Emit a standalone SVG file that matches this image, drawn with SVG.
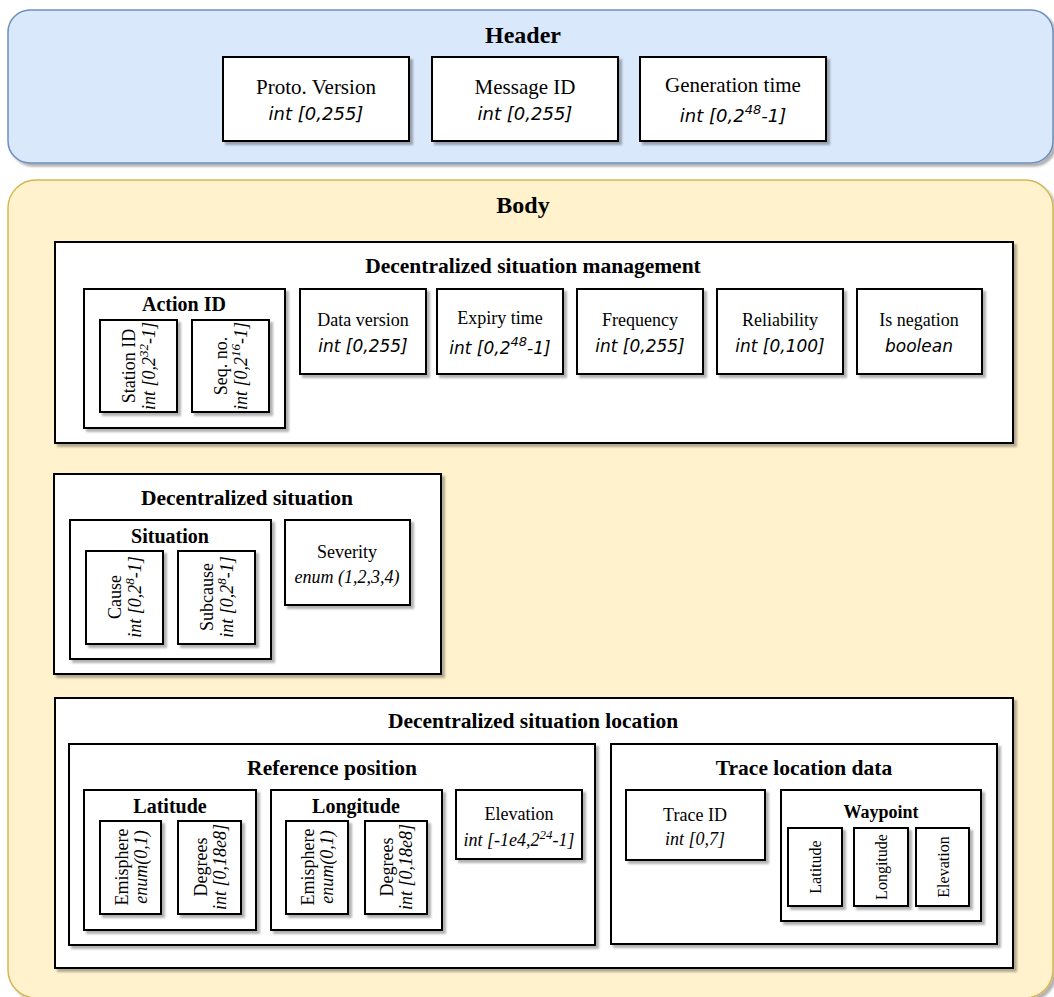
<svg xmlns="http://www.w3.org/2000/svg" width="1054" height="997" viewBox="0 0 1054 997">
<defs>
<filter id="sh" x="-5%" y="-5%" width="115%" height="115%">
<feDropShadow dx="3" dy="3" stdDeviation="1" flood-color="#000" flood-opacity="0.3"/>
</filter>
</defs>
<style>
rect.b{fill:#fff;stroke:#000;stroke-width:2;filter:url(#sh)}
text{font-family:"Liberation Serif","Times New Roman",serif;fill:#000;text-anchor:middle}
.T{font-weight:bold;font-size:24px}
.t{font-weight:bold;font-size:21.5px}
.t3{font-weight:bold;font-size:20px}
.t2{font-weight:bold;font-size:18px}
.h{font-size:21px}
.r{font-size:18px}
.s{font-size:16px}
.i{font-style:italic}
.o{font-family:"DejaVu Sans",sans-serif;font-style:oblique}
.oh{font-size:18px}
.ob{font-size:17px}
</style>
<rect width="1054" height="997" fill="#fff"/>
<g id="header">
<rect x="8" y="10" width="1045" height="153" rx="22" fill="#dae8fc" stroke="#6c8ebf" stroke-width="1.5" filter="url(#sh)"/>
<text class="T" x="523" y="43">Header</text>
</g>
<g id="proto-version">
<rect class="b" x="223" y="57" width="186" height="84"/>
<text class="h" x="316" y="94">Proto. Version</text>
<text class="o oh" x="316" y="120">int [0,255]</text>
</g>
<g id="message-id">
<rect class="b" x="432" y="57" width="186" height="84"/>
<text class="h" x="525" y="94">Message ID</text>
<text class="o oh" x="525" y="120">int [0,255]</text>
</g>
<g id="generation-time">
<rect class="b" x="640" y="57" width="186" height="84"/>
<text class="h" x="733" y="92">Generation time</text>
<text class="o oh" x="733" y="122">int [0,2<tspan dy="-8" font-size="13">48</tspan><tspan dy="8">-1]</tspan></text>
</g>
<g id="body">
<rect x="8" y="180" width="1045" height="818" rx="28" fill="#fff2cc" stroke="#d6b656" stroke-width="1.5" filter="url(#sh)"/>
<text class="T" x="523" y="213">Body</text>
</g>
<g id="dsm">
<rect class="b" x="55" y="242" width="958" height="201"/>
<text class="t" x="533" y="273">Decentralized situation management</text>
</g>
<g id="action-id">
<rect class="b" x="84" y="289" width="201" height="139"/>
<text class="t3" x="184" y="311">Action ID</text>
</g>
<g id="station-id">
<rect class="b" x="100" y="320" width="77" height="92"/>
<g transform="translate(138,366) rotate(-90)">
<text class="r" x="0" y="-3">Station ID</text>
<text class="r i" x="0" y="17">int [0,2<tspan dy="-7" font-size="13">32</tspan><tspan dy="7">-1]</tspan></text>
</g>
</g>
<g id="seq-no">
<rect class="b" x="192" y="320" width="77" height="92"/>
<g transform="translate(230,366) rotate(-90)">
<text class="r" x="0" y="-3">Seq. no.</text>
<text class="r i" x="0" y="17">int [0,2<tspan dy="-7" font-size="13">16</tspan><tspan dy="7">-1]</tspan></text>
</g>
</g>
<g id="data-version">
<rect class="b" x="300" y="289" width="126" height="85"/>
<text class="r" x="363" y="326">Data version</text>
<text class="o ob" x="363" y="352">int [0,255]</text>
</g>
<g id="expiry-time">
<rect class="b" x="437" y="289" width="126" height="85"/>
<text class="r" x="500" y="324">Expiry time</text>
<text class="o ob" x="500" y="354">int [0,2<tspan dy="-8" font-size="13">48</tspan><tspan dy="8">-1]</tspan></text>
</g>
<g id="frequency">
<rect class="b" x="577" y="289" width="126" height="85"/>
<text class="r" x="640" y="326">Frequency</text>
<text class="o ob" x="640" y="352">int [0,255]</text>
</g>
<g id="reliability">
<rect class="b" x="717" y="289" width="126" height="85"/>
<text class="r" x="780" y="326">Reliability</text>
<text class="o ob" x="780" y="352">int [0,100]</text>
</g>
<g id="is-negation">
<rect class="b" x="857" y="289" width="125" height="85"/>
<text class="r" x="919" y="326">Is negation</text>
<text class="o ob" x="919" y="352">boolean</text>
</g>
<g id="ds">
<rect class="b" x="54" y="474" width="387" height="200"/>
<text class="t" x="247" y="505">Decentralized situation</text>
</g>
<g id="situation">
<rect class="b" x="70" y="520" width="201" height="139"/>
<text class="t3" x="170" y="543">Situation</text>
</g>
<g id="cause">
<rect class="b" x="86" y="551" width="77" height="93"/>
<g transform="translate(124,597) rotate(-90)">
<text class="r" x="0" y="-3">Cause</text>
<text class="r i" x="0" y="17">int [0,2<tspan dy="-7" font-size="13">8</tspan><tspan dy="7">-1]</tspan></text>
</g>
</g>
<g id="subcause">
<rect class="b" x="178" y="551" width="77" height="93"/>
<g transform="translate(216,597) rotate(-90)">
<text class="r" x="0" y="-3">Subcause</text>
<text class="r i" x="0" y="17">int [0,2<tspan dy="-7" font-size="13">8</tspan><tspan dy="7">-1]</tspan></text>
</g>
</g>
<g id="severity">
<rect class="b" x="285" y="520" width="125" height="85"/>
<text class="r" x="347" y="558">Severity</text>
<text class="r i" x="347" y="583">enum (1,2,3,4)</text>
</g>
<g id="dsl">
<rect class="b" x="55" y="698" width="958" height="270"/>
<text class="t" x="533" y="728">Decentralized situation location</text>
</g>
<g id="reference-position">
<rect class="b" x="69" y="744" width="526" height="201"/>
<text class="t" x="332" y="775">Reference position</text>
</g>
<g id="latitude">
<rect class="b" x="84" y="790" width="172" height="140"/>
<text class="t3" x="170" y="813">Latitude</text>
</g>
<g id="lat-emisphere">
<rect class="b" x="100" y="821" width="61" height="93"/>
<g transform="translate(131,867) rotate(-90)">
<text class="r" x="0" y="-3">Emisphere</text>
<text class="r i" x="0" y="16">enum(0,1)</text>
</g>
</g>
<g id="lat-degrees">
<rect class="b" x="178" y="821" width="63" height="93"/>
<g transform="translate(210,867) rotate(-90)">
<text class="r" x="0" y="-3">Degrees</text>
<text class="r i" x="0" y="16">int [0,18e8]</text>
</g>
</g>
<g id="longitude">
<rect class="b" x="271" y="790" width="171" height="140"/>
<text class="t3" x="356" y="813">Longitude</text>
</g>
<g id="lon-emisphere">
<rect class="b" x="286" y="821" width="62" height="93"/>
<g transform="translate(317,867) rotate(-90)">
<text class="r" x="0" y="-3">Emisphere</text>
<text class="r i" x="0" y="16">enum(0,1)</text>
</g>
</g>
<g id="lon-degrees">
<rect class="b" x="365" y="821" width="62" height="93"/>
<g transform="translate(396,867) rotate(-90)">
<text class="r" x="0" y="-3">Degrees</text>
<text class="r i" x="0" y="16">int [0,18e8]</text>
</g>
</g>
<g id="elevation">
<rect class="b" x="456" y="790" width="126" height="69"/>
<text class="r" x="519" y="820">Elevation</text>
<text class="r i" x="519" y="846">int [-1e4,2<tspan dy="-7" font-size="13">24</tspan><tspan dy="7">-1]</tspan></text>
</g>
<g id="trace-location-data">
<rect class="b" x="611" y="744" width="386" height="200"/>
<text class="t" x="804" y="775">Trace location data</text>
</g>
<g id="trace-id">
<rect class="b" x="626" y="790" width="139" height="70"/>
<text class="r" x="695" y="821">Trace ID</text>
<text class="r i" x="695" y="845">int [0,7]</text>
</g>
<g id="waypoint">
<rect class="b" x="781" y="790" width="200" height="131"/>
<text class="t2" x="881" y="818">Waypoint</text>
</g>
<g id="wp-latitude">
<rect class="b" x="788" y="828" width="54" height="78"/>
<text class="s" transform="translate(821,867) rotate(-90)">Latitude</text>
</g>
<g id="wp-longitude">
<rect class="b" x="854" y="828" width="54" height="78"/>
<text class="s" transform="translate(887,867) rotate(-90)">Longitude</text>
</g>
<g id="wp-elevation">
<rect class="b" x="916" y="828" width="53" height="78"/>
<text class="s" transform="translate(949,867) rotate(-90)">Elevation</text>
</g>
<g id="connectors"></g>
</svg>
